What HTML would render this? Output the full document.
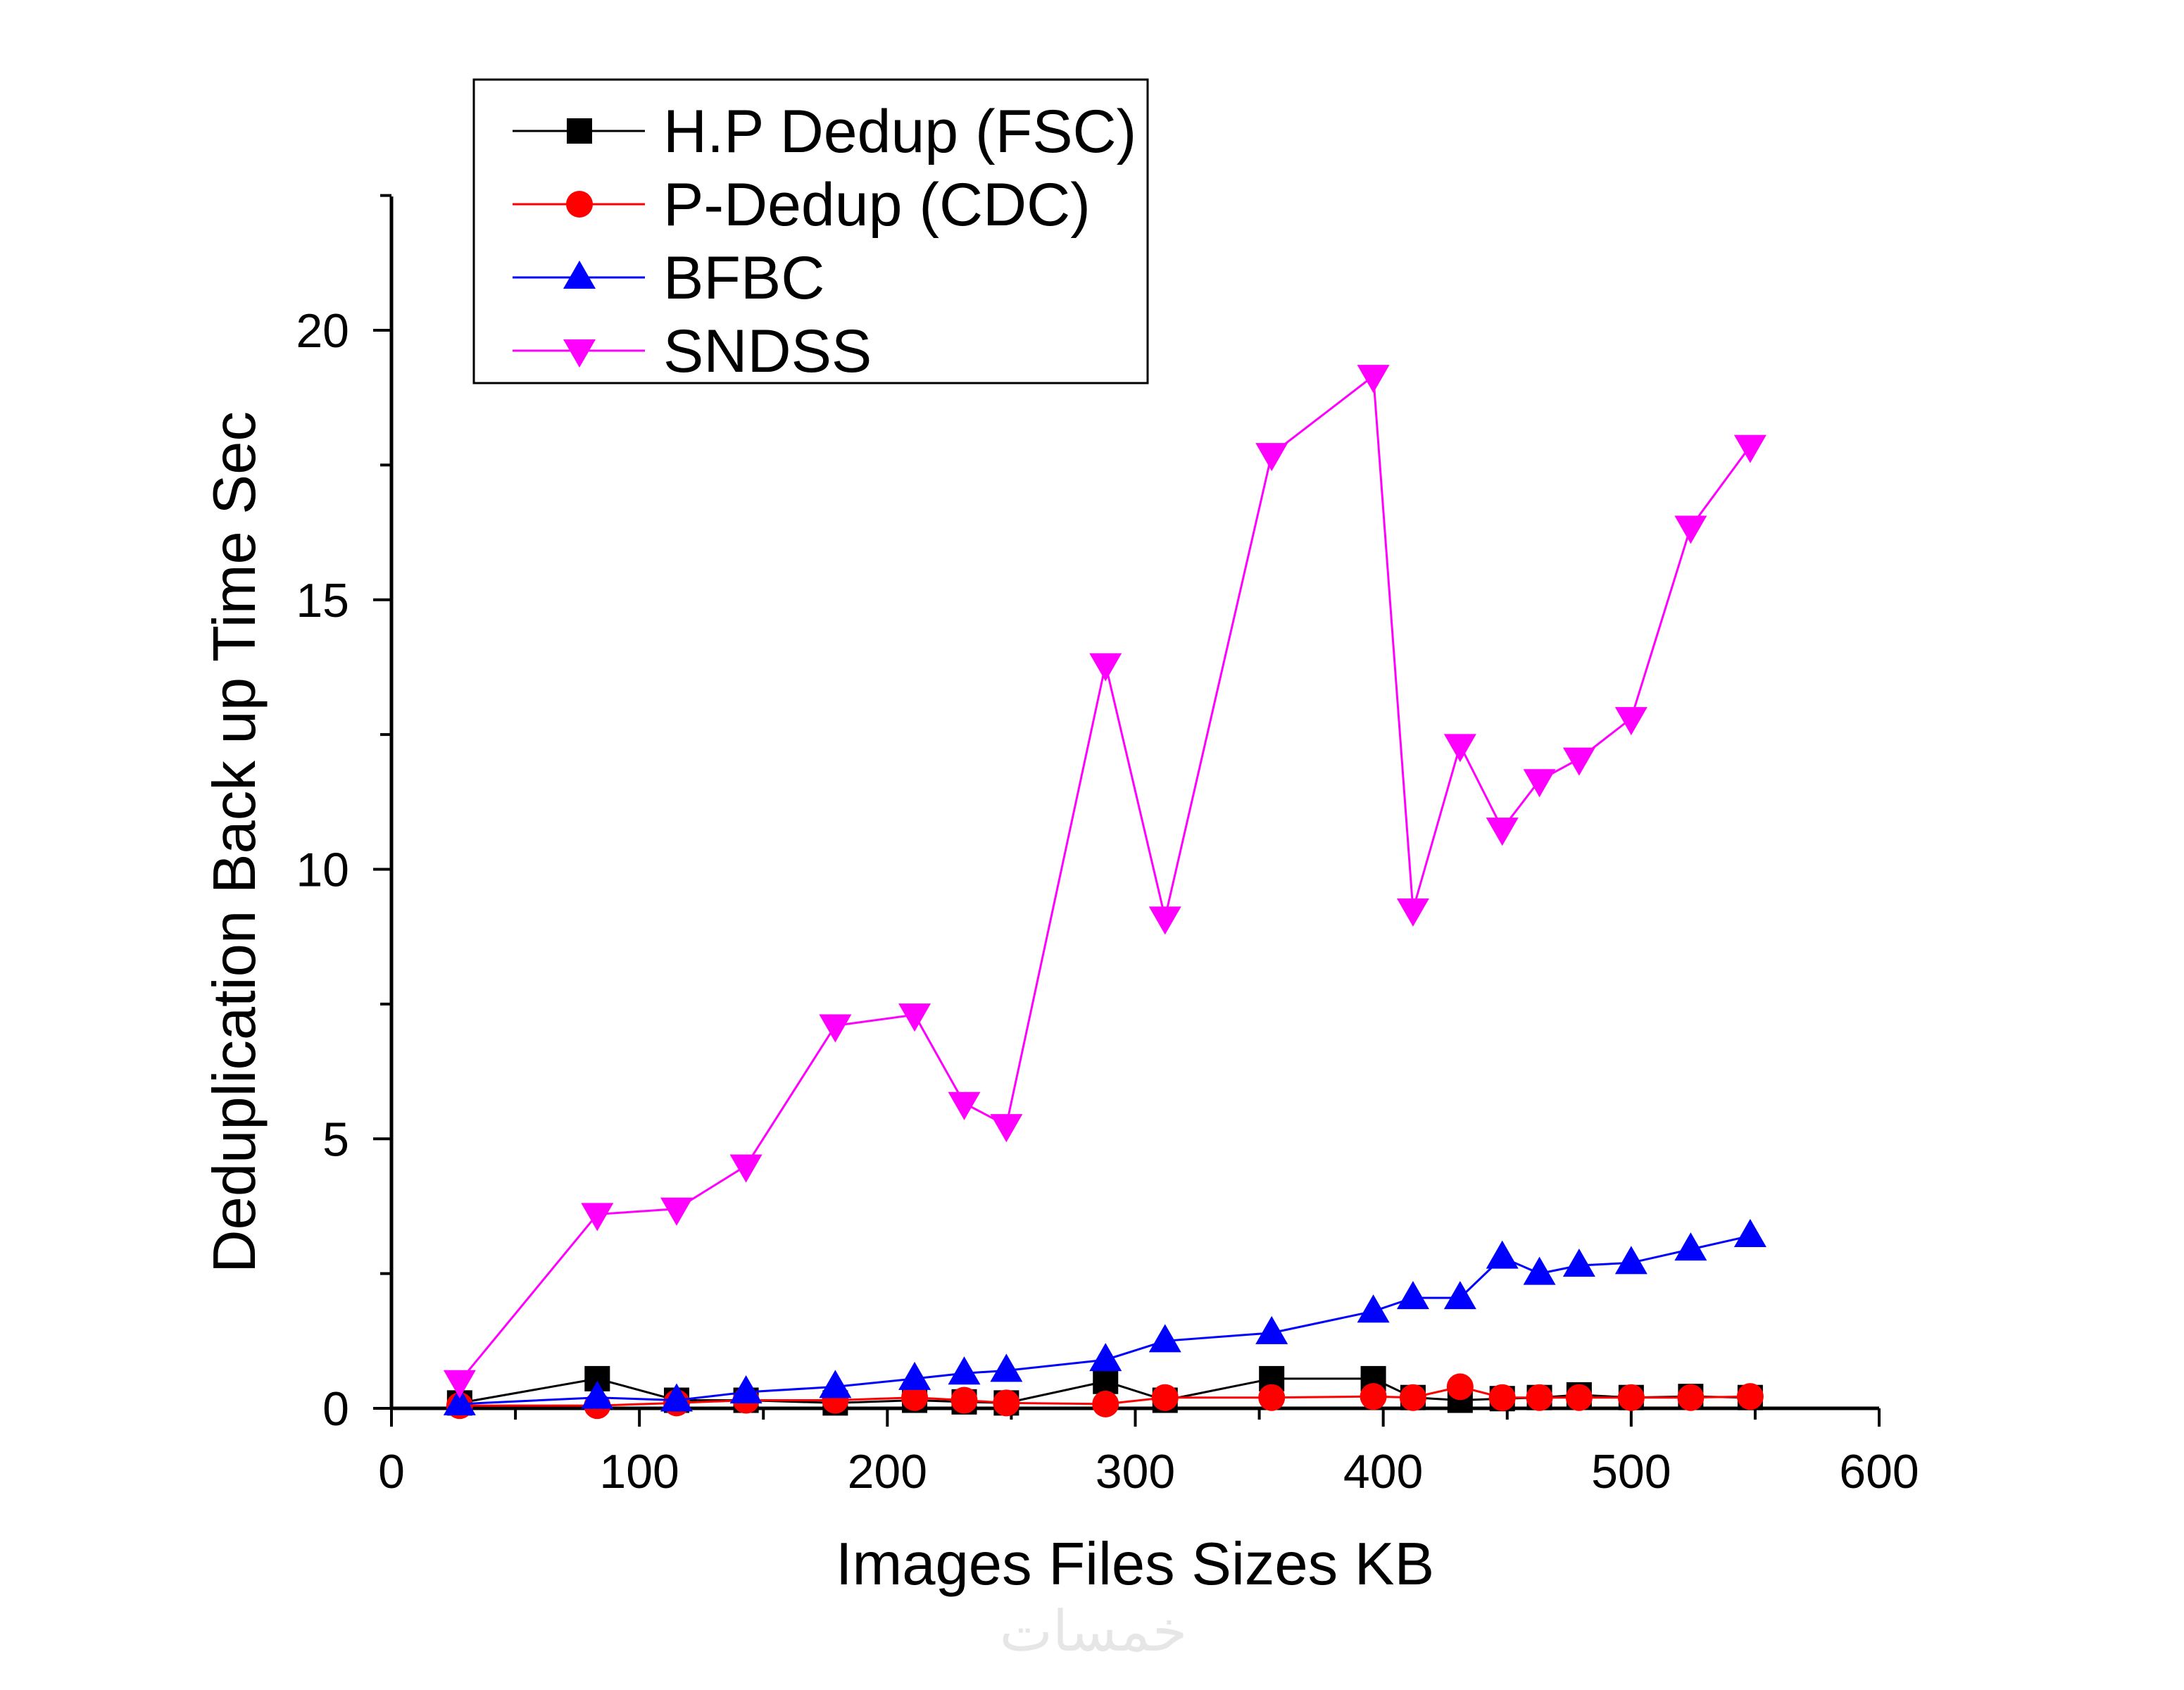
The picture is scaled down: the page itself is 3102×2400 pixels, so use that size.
<!DOCTYPE html>
<html><head><meta charset="utf-8"><style>
html,body{margin:0;padding:0;background:#fff;}
svg{display:block;font-family:"Liberation Sans",Arial,sans-serif;}
</style></head><body>
<svg id="chart" width="3102" height="2400" viewBox="0 0 3102 2400">
<g id="plot"></g>
</svg>
<script>
const xValues=[27.5,83,115,143,179,211,231,248,288,312,355,396,412,431,448,463,479,500,524,548];
const hpValues=[0.1,0.55,0.15,0.15,0.1,0.15,0.12,0.1,0.5,0.15,0.55,0.55,0.2,0.15,0.18,0.2,0.25,0.2,0.22,0.2];
const pdValues=[0.05,0.05,0.1,0.15,0.15,0.2,0.15,0.1,0.08,0.2,0.2,0.22,0.2,0.4,0.2,0.2,0.2,0.2,0.2,0.22];
const bfValues=[0.08,0.2,0.15,0.3,0.4,0.55,0.65,0.7,0.9,1.25,1.4,1.8,2.05,2.05,2.8,2.5,2.65,2.7,2.95,3.2];
const snValues=[0.5,3.6,3.7,4.5,7.1,7.3,5.66,5.25,13.8,9.1,17.7,19.15,9.25,12.3,10.75,11.65,12.05,12.8,16.35,17.85];
const xTicks=[0,100,200,300,400,500,600];
const yTicks=[0,5,10,15,20];
const seriesNames=["H.P Dedup (FSC)","P-Dedup (CDC)","BFBC","SNDSS"];

const NS="http://www.w3.org/2000/svg";
const X0=556,X1=2669,Y0=2000,YT=279;
const sx=v=>X0+(v/600)*(X1-X0);
const sy=v=>Y0-v*76.55;
const g=document.getElementById('plot');
function mk(t,a,p){const e=document.createElementNS(NS,t);for(const k in a)e.setAttribute(k,a[k]);(p||g).appendChild(e);return e;}

let e=mk('line',{x1:X0,y1:Y0,x2:X1,y2:Y0,stroke:'#000','stroke-width':5});


e=mk('line',{x1:X0,y1:Y0,x2:X0,y2:YT,stroke:'#000','stroke-width':5});


for(let v=0;v<=600;v+=50){const maj=v%100===0;mk('line',{x1:sx(v),y1:Y0,x2:sx(v),y2:Y0+(maj?26:16),stroke:'#000','stroke-width':4});}
for(let v=0;v<=22.5;v+=2.5){const maj=v%5===0;mk('line',{x1:X0,y1:sy(v),x2:X0-(maj?26:16),y2:sy(v),stroke:'#000','stroke-width':4});}
xTicks.forEach(v=>{const t=mk('text',{x:sx(v),y:Y0+113,'font-size':68,'text-anchor':'middle'});t.textContent=v;

});
yTicks.forEach(v=>{const t=mk('text',{x:X0-60,y:sy(v)+24,'font-size':68,'text-anchor':'end'});t.textContent=v;

});
let t=mk('text',{x:1612,y:2250,'font-size':85,'text-anchor':'middle'});t.textContent='Images Files Sizes KB';


t=mk('text',{x:362,y:1196,'font-size':85,'text-anchor':'middle',transform:'rotate(-90 362 1196)'});t.textContent='Deduplication Back up Time Sec';



function marker(type,cx,cy,col,p){
 if(type==='sq')return mk('rect',{x:cx-18,y:cy-18,width:36,height:36,fill:col},p);
 if(type==='ci')return mk('circle',{cx:cx,cy:cy,r:19,fill:col},p);
 if(type==='up')return mk('polygon',{points:`${cx},${cy-24} ${cx+23},${cy+16} ${cx-23},${cy+16}`,fill:col},p);
 return mk('polygon',{points:`${cx},${cy+24} ${cx+23},${cy-16} ${cx-23},${cy-16}`,fill:col},p);
}
const series=[[hpValues,'#000','sq'],[pdValues,'#ff0000','ci'],[bfValues,'#0000ff','up'],[snValues,'#ff00ff','dn']];
series.forEach(([vals,col,type],si)=>{
 const sg=mk('g',{});
 
 
 const pts=vals.map((v,i)=>sx(xValues[i])+','+sy(v)).join(' ');
 mk('polyline',{points:pts,fill:'none',stroke:col,'stroke-width':3},sg);
 vals.forEach((v,i)=>{const m=marker(type,sx(xValues[i]),sy(v),col,sg);
 
 });
});

const lg=mk('g',{});


mk('rect',{x:673,y:113,width:957,height:431,fill:'#fff',stroke:'#000','stroke-width':3},lg);
seriesNames.forEach((n,i)=>{
 const y=186+i*104;
 const eg=mk('g',{},lg);
 
 
 mk('line',{x1:728,y1:y,x2:916,y2:y,stroke:series[i][1],'stroke-width':3},eg);
 marker(series[i][2],823,y,series[i][1],eg);
 const tt=mk('text',{x:942,y:y+30,'font-size':86},eg);tt.textContent=n;
});
t=mk('text',{x:1553,y:2344,'font-size':80,'text-anchor':'middle',fill:'#e6e6e6','font-family':'"Liberation Sans","Noto Sans CJK SC",sans-serif'});t.textContent='خمسات';


</script>
</body></html>
